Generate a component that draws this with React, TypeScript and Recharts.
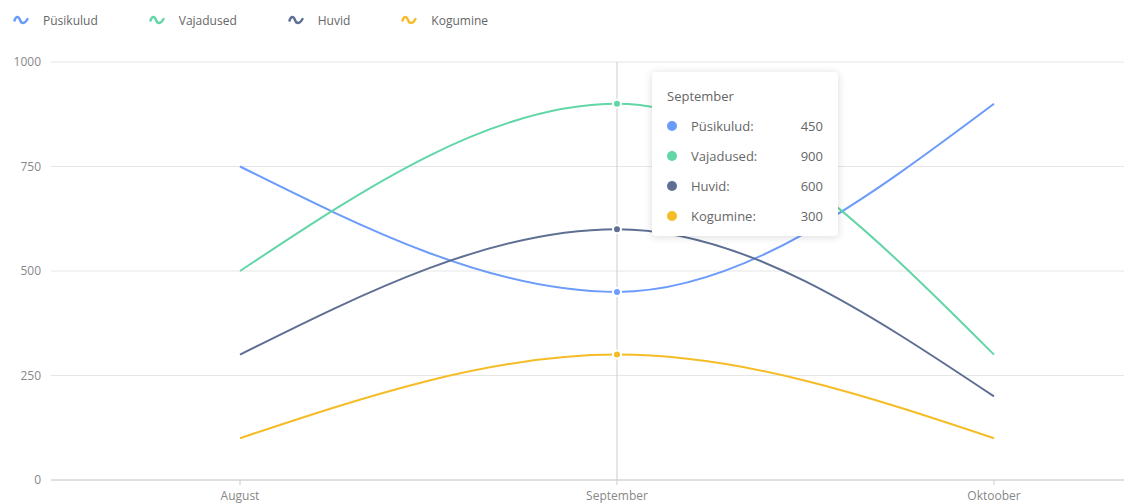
import { LineChart, Line, XAxis, YAxis, CartesianGrid, Tooltip, Legend } from 'recharts';

// kuud ja väärtused (loetud pildilt)
const months = ['August', 'September', 'Oktoober'];
const pusikulud = [750, 450, 900];
const vajadused = [500, 900, 300];
const huvid = [300, 600, 200];
const kogumine = [100, 300, 100];
const yTicks = [0, 250, 500, 750, 1000];

const series = [
  { name: 'Püsikulud', values: pusikulud, color: '#6b9bfb' },
  { name: 'Vajadused', values: vajadused, color: '#62d6a6' },
  { name: 'Huvid', values: huvid, color: '#5e6f93' },
  { name: 'Kogumine', values: kogumine, color: '#f6bc25' },
];

const data = months.map((month, i) => {
  const row: Record<string, string | number> = { month };
  series.forEach(s => {
    row[s.name] = s.values[i];
  });
  return row;
});

const FONT = '"Open Sans", "Noto Sans", sans-serif';

function WaveLegend({ payload }: { payload?: any[] }) {
  // keep the series order, not the alphabetical one
  const items = series
    .map(s => (payload || []).find(p => p.value === s.name))
    .filter(Boolean);
  return (
    <div style={{ display: 'flex', alignItems: 'center', paddingLeft: 13, height: 40, fontFamily: FONT }}>
      {items.map((item: any) => (
        <div key={item.value} style={{ display: 'flex', alignItems: 'center', marginRight: 51 }}>
          <svg width={16} height={12} style={{ marginRight: 14 }}>
            <path
              d="M1.5 6.5 C 3 2, 5.5 2, 7 6 S 11.5 10.5, 14.5 5"
              fill="none"
              stroke={item.color}
              strokeWidth={2.4}
              strokeLinecap="round"
            />
          </svg>
          <span style={{ fontSize: 12, color: '#666' }}>{item.value}</span>
        </div>
      ))}
    </div>
  );
}

function TipBox({ active, payload, label }: any) {
  if (!active || !payload?.length) return null;
  return (
    <div
      style={{
        width: 186,
        boxSizing: 'border-box',
        padding: '14px 15px 5px',
        background: '#fff',
        borderRadius: 4,
        boxShadow: '0 1px 8px rgba(0,0,0,0.15)',
        fontFamily: FONT,
        fontSize: 13,
        color: '#666',
      }}
    >
      <div style={{ height: 20, lineHeight: '20px', marginBottom: 5 }}>{label}</div>
      {payload.map((p: any) => (
        <div key={p.name} style={{ height: 30, display: 'flex', alignItems: 'center' }}>
          <span
            style={{
              width: 10,
              height: 10,
              borderRadius: 5,
              background: p.color || p.stroke,
              marginRight: 14,
            }}
          />
          <span style={{ flex: 1 }}>{p.name}:</span>
          <span>{p.value}</span>
        </div>
      ))}
    </div>
  );
}

export default function App() {
  return (
    <div style={{ position: 'fixed', left: 0, top: 0, width: 1124, height: 504, overflow: 'hidden', background: '#fff' }}>
      <LineChart width={1200} height={520} data={data} margin={{ top: 62, right: 17, bottom: 10, left: 0 }}>
        <CartesianGrid vertical={false} stroke="#e6e6e6" />
        <XAxis
          dataKey="month"
          height={30}
          padding={{ left: 189, right: 189 }}
          axisLine={{ stroke: '#ccc' }}
          tickLine={{ stroke: '#ccc' }}
          tickSize={5}
          tickMargin={6}
          tick={{ fontSize: 12, fill: '#888', fontFamily: FONT }}
        />
        <YAxis
          width={51}
          domain={[0, 1000]}
          ticks={yTicks}
          axisLine={false}
          tickLine={false}
          tickMargin={4}
          tick={{ fontSize: 12, fill: '#888', fontFamily: FONT }}
        />
        <Legend
          verticalAlign="middle"
          layout="horizontal"
          wrapperStyle={{ top: 0, left: 0 }}
          content={<WaveLegend />}
        />
        <Tooltip
          active
          defaultIndex={1}
          position={{ x: 652, y: 72 }}
          isAnimationActive={false}
          cursor={{ stroke: '#ccc', strokeWidth: 1 }}
          content={<TipBox />}
        />
        {series.map(s => (
          <Line
            key={s.name}
            type="monotone"
            dataKey={s.name}
            name={s.name}
            stroke={s.color}
            strokeWidth={2}
            dot={false}
            activeDot={{ r: 4, stroke: '#fff', strokeWidth: 2, fill: s.color }}
            isAnimationActive={false}
          />
        ))}
      </LineChart>
    </div>
  );
}
